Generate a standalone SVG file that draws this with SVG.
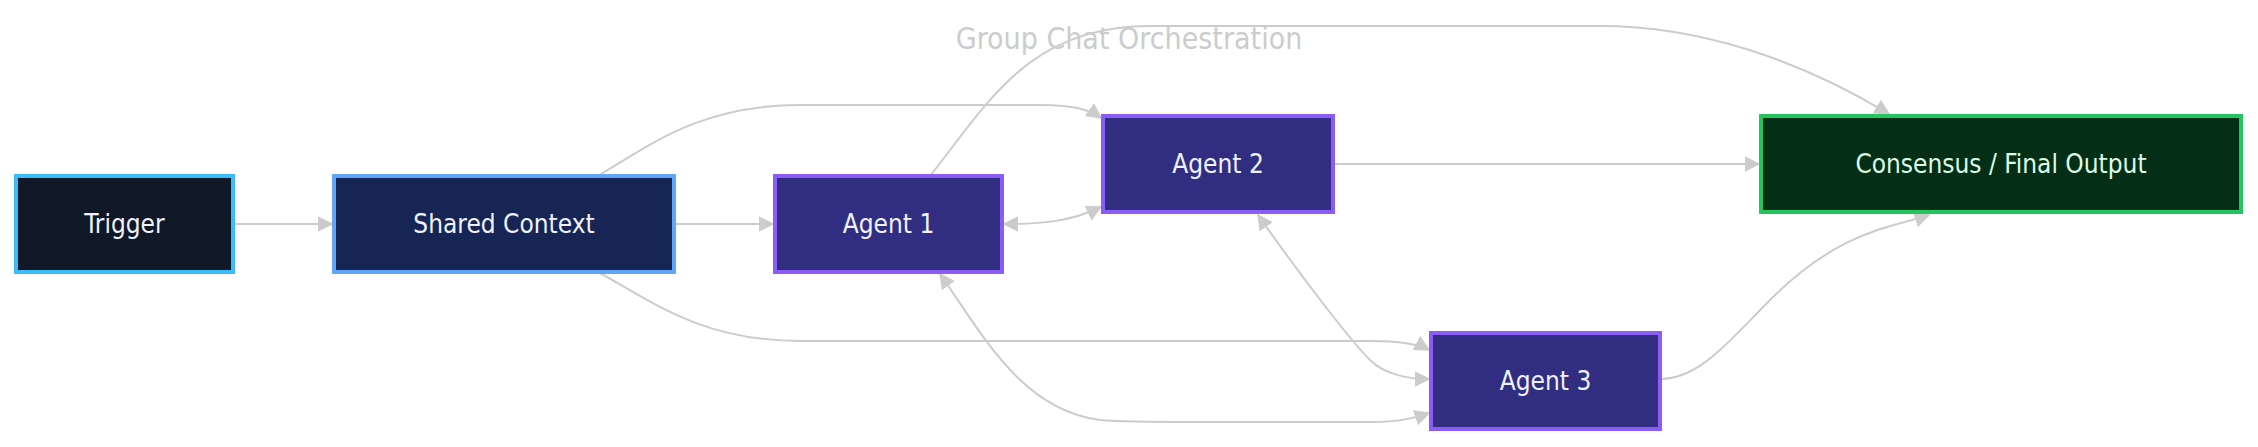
<svg xmlns="http://www.w3.org/2000/svg" width="2258" height="447" viewBox="0 0 2258 447">
<defs>
<marker id="ah" viewBox="0 0 10 10" refX="9" refY="5" markerWidth="8" markerHeight="8" markerUnits="strokeWidth" orient="auto-start-reverse"><path d="M0,0L10,5L0,10z" fill="#cccccc"/></marker>
<style>
.n rect{stroke-width:4}
.n text{font-family:"DejaVu Sans Condensed","DejaVu Sans",sans-serif;font-size:26px;fill:#eef2ff;text-anchor:middle;dominant-baseline:central}
.e path{fill:none;stroke:#cccccc;stroke-width:2}
.ag rect{fill:#312e81;stroke:#8b5cf6}
</style>
</defs>
<rect width="2258" height="447" fill="#ffffff"/>
<text x="1129" y="38" font-family="DejaVu Sans Condensed,DejaVu Sans,sans-serif" font-size="30" fill="#cccccc" text-anchor="middle" dominant-baseline="central">Group Chat Orchestration</text>
<g class="e">
<path d="M233,224 L332,224" marker-end="url(#ah)"/>
<path d="M674,224 L773,224" marker-end="url(#ah)"/>
<path d="M598,176 C650,145 700,105 800,105 L1040,105 C1075,105 1090,110 1101,118" marker-end="url(#ah)"/>
<path d="M598,272 C650,300 700,341 800,341 L1370,341 C1405,341 1420,345 1429,350" marker-end="url(#ah)"/>
<path d="M930,176 C990,100 1030,26 1150,26 L1600,26 C1700,26 1800,60 1889,114" marker-end="url(#ah)"/>
<path d="M1004,224 C1040,224 1070,222 1101,207" marker-start="url(#ah)" marker-end="url(#ah)"/>
<path d="M1333,164 L1759,164" marker-end="url(#ah)"/>
<path d="M1258,215 C1300,275 1350,340 1370,360 C1385,375 1410,379 1429,379" marker-start="url(#ah)" marker-end="url(#ah)"/>
<path d="M940,274 C980,330 1020,410 1100,420 C1120,422 1150,422 1200,422 L1370,422 C1400,422 1415,418 1429,413" marker-start="url(#ah)" marker-end="url(#ah)"/>
<path d="M1660,379 C1700,379 1730,340 1770,300 C1840,230 1890,228 1929,215" marker-end="url(#ah)"/>
</g>
<g id="trigger" class="n"><rect x="16" y="176" width="217" height="96" fill="#111827" stroke="#38bdf8"/><text x="124.5" y="224">Trigger</text></g>
<g id="shared" class="n"><rect x="334" y="176" width="340" height="96" fill="#172554" stroke="#60a5fa"/><text x="504" y="224">Shared Context</text></g>
<g id="agent1" class="n ag"><rect x="775" y="176" width="227" height="96"/><text x="888.5" y="224">Agent 1</text></g>
<g id="agent2" class="n ag"><rect x="1103" y="116" width="230" height="96"/><text x="1218" y="164">Agent 2</text></g>
<g id="agent3" class="n ag"><rect x="1431" y="333" width="229" height="96"/><text x="1545.5" y="381">Agent 3</text></g>
<g id="consensus" class="n"><rect x="1761" y="116" width="480" height="96" fill="#052e16" stroke="#22c55e"/><text x="2001" y="164" style="fill:#dcfce7">Consensus / Final Output</text></g>
</svg>
